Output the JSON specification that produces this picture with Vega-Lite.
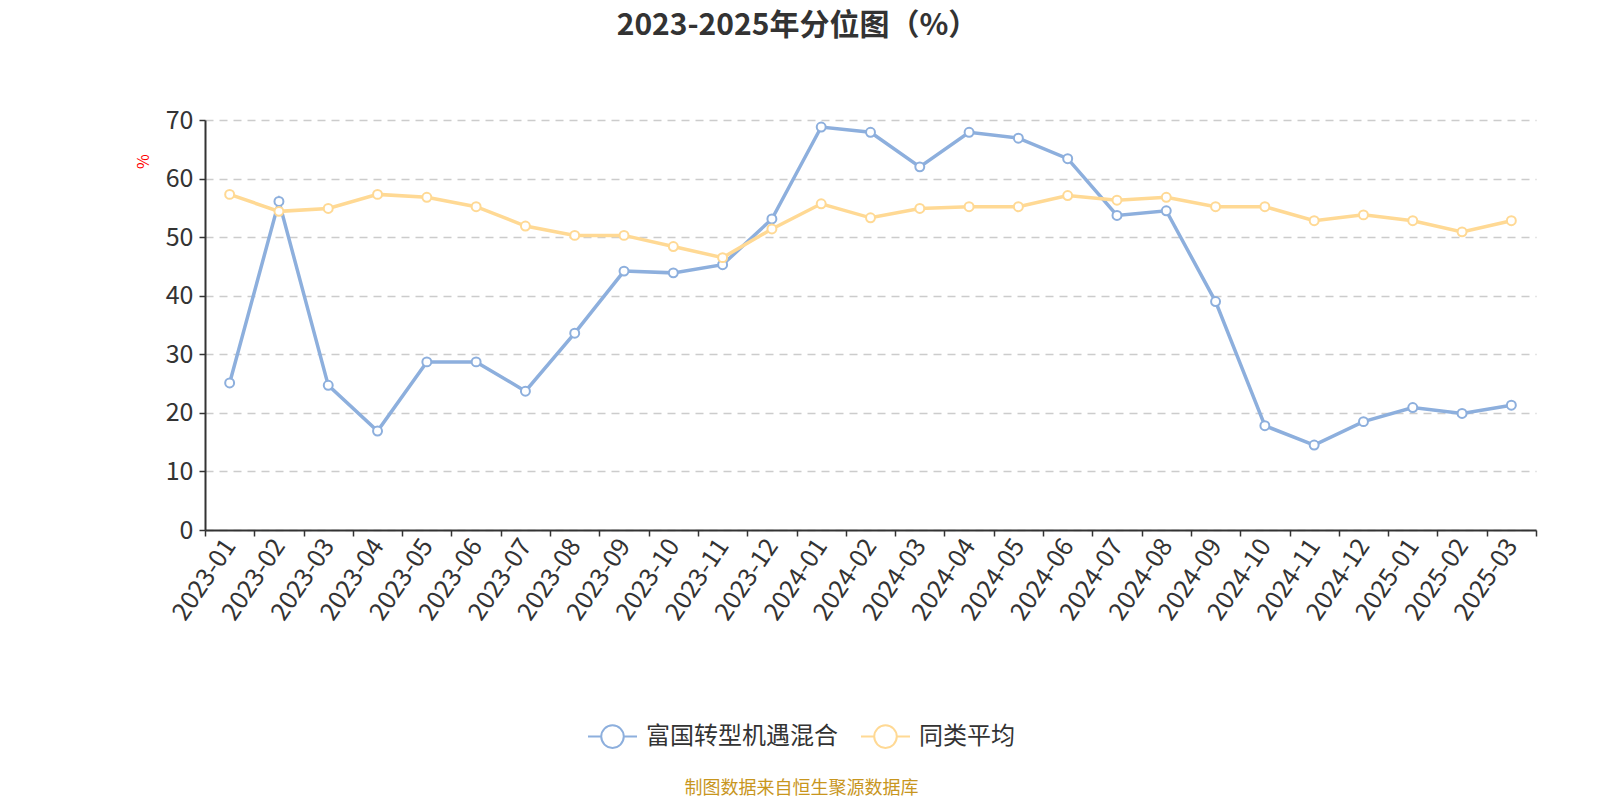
{
  "$schema": "https://vega.github.io/schema/vega-lite/v6.json",
  "width": 1331,
  "height": 410,
  "autosize": {"type": "none"},
  "padding": {"left": 205, "top": 120, "right": 64, "bottom": 270},
  "background": "white",
  "config": {
    "font": "Noto Sans CJK SC",
    "view": {"stroke": null}
  },
  "title": {
    "text": "2023-2025年分位图（%）",
    "fontSize": 30,
    "fontWeight": "bold",
    "color": "#333333",
    "anchor": "middle",
    "dx": -73,
    "offset": 67
  },
  "data": {
    "values": [
      {"month": "2023-01", "series": "富国转型机遇混合", "value": 25.1},
      {"month": "2023-02", "series": "富国转型机遇混合", "value": 56.1},
      {"month": "2023-03", "series": "富国转型机遇混合", "value": 24.7},
      {"month": "2023-04", "series": "富国转型机遇混合", "value": 16.9},
      {"month": "2023-05", "series": "富国转型机遇混合", "value": 28.7},
      {"month": "2023-06", "series": "富国转型机遇混合", "value": 28.7},
      {"month": "2023-07", "series": "富国转型机遇混合", "value": 23.7},
      {"month": "2023-08", "series": "富国转型机遇混合", "value": 33.6},
      {"month": "2023-09", "series": "富国转型机遇混合", "value": 44.2},
      {"month": "2023-10", "series": "富国转型机遇混合", "value": 43.9},
      {"month": "2023-11", "series": "富国转型机遇混合", "value": 45.3},
      {"month": "2023-12", "series": "富国转型机遇混合", "value": 53.1},
      {"month": "2024-01", "series": "富国转型机遇混合", "value": 68.8},
      {"month": "2024-02", "series": "富国转型机遇混合", "value": 67.9},
      {"month": "2024-03", "series": "富国转型机遇混合", "value": 62.0},
      {"month": "2024-04", "series": "富国转型机遇混合", "value": 67.9},
      {"month": "2024-05", "series": "富国转型机遇混合", "value": 66.9},
      {"month": "2024-06", "series": "富国转型机遇混合", "value": 63.4},
      {"month": "2024-07", "series": "富国转型机遇混合", "value": 53.7},
      {"month": "2024-08", "series": "富国转型机遇混合", "value": 54.5},
      {"month": "2024-09", "series": "富国转型机遇混合", "value": 39.0},
      {"month": "2024-10", "series": "富国转型机遇混合", "value": 17.8},
      {"month": "2024-11", "series": "富国转型机遇混合", "value": 14.5},
      {"month": "2024-12", "series": "富国转型机遇混合", "value": 18.5},
      {"month": "2025-01", "series": "富国转型机遇混合", "value": 20.9},
      {"month": "2025-02", "series": "富国转型机遇混合", "value": 19.9},
      {"month": "2025-03", "series": "富国转型机遇混合", "value": 21.3},
      {"month": "2023-01", "series": "同类平均", "value": 57.3},
      {"month": "2023-02", "series": "同类平均", "value": 54.4},
      {"month": "2023-03", "series": "同类平均", "value": 54.9},
      {"month": "2023-04", "series": "同类平均", "value": 57.3},
      {"month": "2023-05", "series": "同类平均", "value": 56.8},
      {"month": "2023-06", "series": "同类平均", "value": 55.2},
      {"month": "2023-07", "series": "同类平均", "value": 51.9},
      {"month": "2023-08", "series": "同类平均", "value": 50.3},
      {"month": "2023-09", "series": "同类平均", "value": 50.3},
      {"month": "2023-10", "series": "同类平均", "value": 48.4},
      {"month": "2023-11", "series": "同类平均", "value": 46.5},
      {"month": "2023-12", "series": "同类平均", "value": 51.4},
      {"month": "2024-01", "series": "同类平均", "value": 55.7},
      {"month": "2024-02", "series": "同类平均", "value": 53.3},
      {"month": "2024-03", "series": "同类平均", "value": 54.9},
      {"month": "2024-04", "series": "同类平均", "value": 55.2},
      {"month": "2024-05", "series": "同类平均", "value": 55.2},
      {"month": "2024-06", "series": "同类平均", "value": 57.1},
      {"month": "2024-07", "series": "同类平均", "value": 56.3},
      {"month": "2024-08", "series": "同类平均", "value": 56.8},
      {"month": "2024-09", "series": "同类平均", "value": 55.2},
      {"month": "2024-10", "series": "同类平均", "value": 55.2},
      {"month": "2024-11", "series": "同类平均", "value": 52.8},
      {"month": "2024-12", "series": "同类平均", "value": 53.8},
      {"month": "2025-01", "series": "同类平均", "value": 52.8},
      {"month": "2025-02", "series": "同类平均", "value": 50.9},
      {"month": "2025-03", "series": "同类平均", "value": 52.8}
    ]
  },
  "encoding": {
    "x": {
      "field": "month",
      "type": "ordinal",
      "scale": {"type": "band", "paddingInner": 0, "paddingOuter": 0},
      "axis": {
        "title": "制图数据来自恒生聚源数据库",
        "titleColor": "#C8961E",
        "titleFontSize": 18,
        "titleFontWeight": "normal",
        "titleX": 596,
        "titleY": 258,
        "titleAlign": "center",
        "titleBaseline": "middle",
        "labelAngle": -56,
        "labelFontSize": 25,
        "labelColor": "#333333",
        "labelAlign": "right",
        "labelBaseline": "middle",
        "labelPadding": 5,
        "tickBand": "extent",
        "tickSize": 6,
        "tickColor": "#333333",
        "tickWidth": 1.5,
        "domainColor": "#333333",
        "domainWidth": 2,
        "grid": false
      }
    },
    "y": {
      "field": "value",
      "type": "quantitative",
      "scale": {"domain": [0, 70]},
      "axis": {
        "values": [0, 10, 20, 30, 40, 50, 60, 70],
        "title": "%",
        "titleColor": "#FF0000",
        "titleFontSize": 16,
        "titleFontWeight": "normal",
        "titleAngle": -90,
        "titleX": -62,
        "titleY": 41,
        "titleAlign": "center",
        "titleBaseline": "middle",
        "labelFontSize": 25,
        "labelColor": "#333333",
        "labelPadding": 6,
        "tickSize": 6,
        "tickColor": "#333333",
        "tickWidth": 1.5,
        "domainColor": "#333333",
        "domainWidth": 2,
        "grid": true,
        "gridColor": "#CCCCCC",
        "gridDash": [8, 6],
        "gridWidth": 1.5
      }
    },
    "stroke": {
      "field": "series",
      "type": "nominal",
      "sort": ["富国转型机遇混合", "同类平均"],
      "scale": {"domain": ["富国转型机遇混合", "同类平均"], "range": ["#8DAFDD", "#FFD994"]},
      "legend": {
        "orient": "none",
        "legendX": 382,
        "legendY": 591,
        "direction": "horizontal",
        "title": null,
        "symbolType": "M-1,0L-0.46,0M0.46,0L1,0M0.46,0A0.46,0.46,0,1,1,-0.46,0A0.46,0.46,0,1,1,0.46,0Z",
        "symbolSize": 2401,
        "symbolStrokeWidth": 2,
        "symbolFillColor": "white",
        "labelFontSize": 24,
        "labelColor": "#333333",
        "labelOffset": 8,
        "labelLimit": 500,
        "columnPadding": 19
      }
    }
  },
  "layer": [
    {
      "mark": {"type": "line", "strokeWidth": 3.5}
    },
    {
      "mark": {"type": "point", "shape": "circle", "filled": true, "fill": "white", "size": 80, "strokeWidth": 2, "opacity": 1}
    }
  ]
}
